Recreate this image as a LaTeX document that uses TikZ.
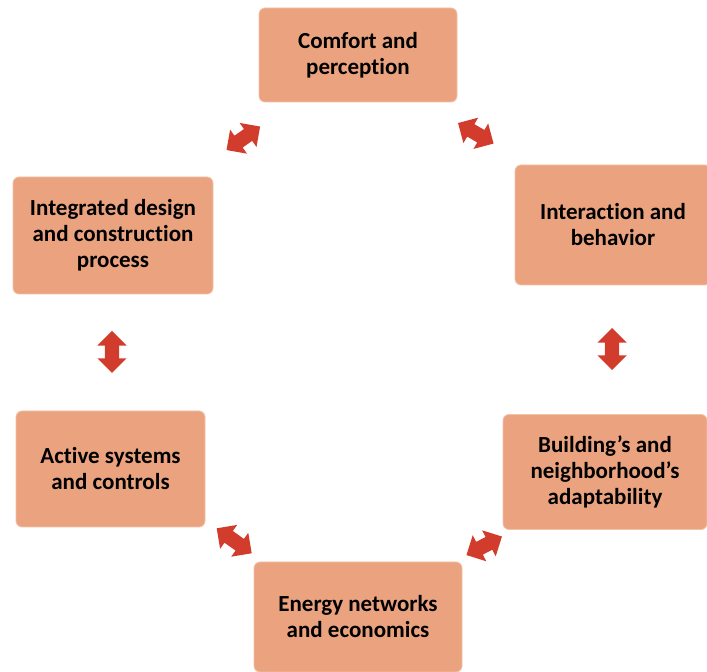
\documentclass[tikz,border=0pt]{standalone}
\usepackage{fontspec}
\setmainfont{Carlito}[Ligatures=NoCommon]
\usepackage{tikz}
\usetikzlibrary{shapes.arrows}
\definecolor{boxfill}{HTML}{EBA37F}
\definecolor{boxline}{HTML}{F2C2A9}
\definecolor{arrowred}{HTML}{D23C2C}

\begin{document}
\begin{tikzpicture}[
  topic/.style={rectangle,
                rounded corners=6bp,
                fill=boxfill,
                draw=boxline,
                line width=0.8bp,
                align=center,
                font=\fontsize{23bp}{26bp}\selectfont\bfseries,
                inner sep=0pt},
  link/.style={double arrow,
               fill=arrowred,
               draw=none,
               inner xsep=0pt,
               inner ysep=7bp,
               minimum height=#1,
               double arrow head extend=7.5bp},
  link/.default=41bp,
  ]
\useasboundingbox (0bp,0bp) rectangle (707bp,672bp);
%%
  \node (box1) at (358bp,617bp) [topic,minimum width=198bp,minimum height=94bp] {Comfort and\\perception};
  \node (box2) at (613bp,447bp) [topic,minimum width=196bp,minimum height=120bp] {Interaction and\\behavior};
  \node (box3) at (605bp,200bp) [topic,minimum width=204bp,minimum height=115bp] {Building’s and\\neighborhood’s\\adaptability};
  \node (box4) at (358bp,55bp)  [topic,minimum width=208bp,minimum height=110bp] {Energy networks\\and economics};
  \node (box5) at (110.5bp,203bp) [topic,minimum width=189bp,minimum height=116bp] {Active systems\\and controls};
  \node (box6) at (113bp,436.5bp) [topic,minimum width=200bp,minimum height=117bp] {Integrated design\\and construction\\process};

  \node (link6_1) at (243.3bp,533.7bp) [link,rotate=35] {};
  \node (link1_2) at (475.8bp,538.7bp) [link,rotate=-30] {};
  \node (link2_3) at (612bp,323bp) [link=42bp,rotate=90] {};
  \node (link3_4) at (484.2bp,126.2bp) [link=40bp,rotate=27.6] {};
  \node (link4_5) at (234.2bp,131.2bp) [link=43bp,rotate=-35.5] {};
  \node (link5_6) at (112bp,320bp) [link=42bp,rotate=90] {};
%
\end{tikzpicture}
\end{document}
